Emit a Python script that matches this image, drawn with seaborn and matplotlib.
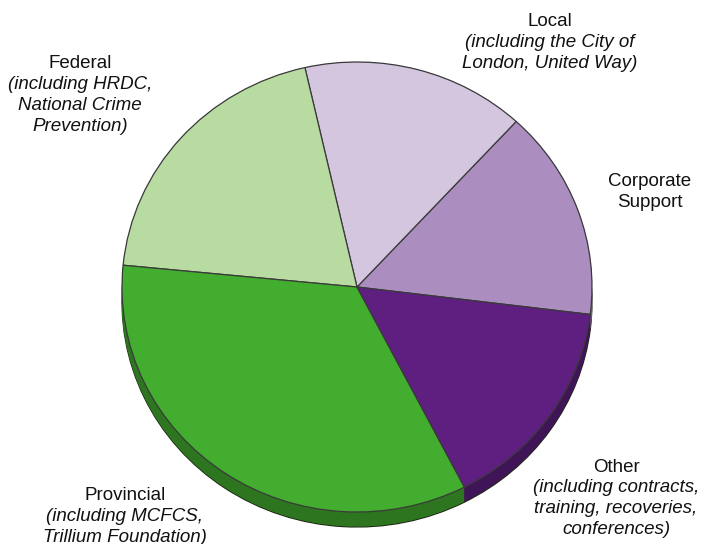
import numpy as np
import matplotlib
matplotlib.use("Agg")
import matplotlib.pyplot as plt
import seaborn as sns

# funding sources (share of the pie, %)
sources = ["Corporate\nSupport", "Local", "Federal", "Provincial", "Other"]
shares = [15.1, 15.4, 19.9, 34.1, 15.5]
notes = [
    "",
    "(including the City of\nLondon, United Way)",
    "(including HRDC,\nNational Crime\nPrevention)",
    "(including MCFCS,\nTrillium Foundation)",
    "(including contracts,\ntraining, recoveries,\nconferences)",
]
top_colors = ["#ab8dbf", "#d5c6e0", "#b8dba1", "#42ad2e", "#5e1f80"]

W, H = 701, 544
CX, CY = 357, 287          # pie centre in pixels
RX, RY = 235, 225          # ellipse radii in pixels
DEPTH = 15                 # thickness of the pie in pixels

sns.set_theme(style="white")
plt.rcParams["font.family"] = ["Liberation Sans", "DejaVu Sans"]

fig = plt.figure(figsize=(W / 100, H / 100), dpi=100)
ax = fig.add_axes([0, 0, 1, 1])

palette = sns.color_palette(top_colors)
side_colors = [tuple(c * 0.68 for c in col) for col in palette]

k = RX / RY  # y data units per pixel
depth_data = DEPTH * k

# side of the pie: stacked copies shifted down
offsets = np.linspace(depth_data, 0, 32)
for i, d in enumerate(offsets):
    edge = "#1e2a14" if i == 0 else "none"
    ax.pie(shares, colors=side_colors, radius=RX, center=(0, -d),
           startangle=-7, counterclock=True,
           wedgeprops=dict(linewidth=0.9 if i == 0 else 0, edgecolor=edge))

# top face
ax.pie(shares, colors=palette, radius=RX, center=(0, 0),
       startangle=-7, counterclock=True,
       wedgeprops=dict(linewidth=0.9, edgecolor="#3a3a3a"))

ax.set_aspect("auto")
ax.set_xlim(-CX, W - CX)
ax.set_ylim(-(H - CY) * k, CY * k)
ax.axis("off")

# label placement in pixels: x, y of the heading line, line step
label_pos = [
    (650, 182),
    (550, 22),
    (80, 64),
    (125, 496),
    (616, 467),
]
step = 20.8

fs = 13.5
for name, note, (x, yh) in zip(sources, notes, label_pos):
    n_head = name.count("\n") + 1
    fig.text(x / W, 1 - (yh + step * (n_head - 1) / 2) / H, name,
             ha="center", va="center", fontsize=fs, color="#111111",
             linespacing=1.3)
    if note:
        n_note = note.count("\n") + 1
        yn = yh + step * n_head + step * (n_note - 1) / 2
        fig.text(x / W, 1 - yn / H, note, ha="center", va="center",
                 fontsize=fs, style="italic", color="#111111",
                 linespacing=1.3)

fig.savefig("out.png", dpi=100)
